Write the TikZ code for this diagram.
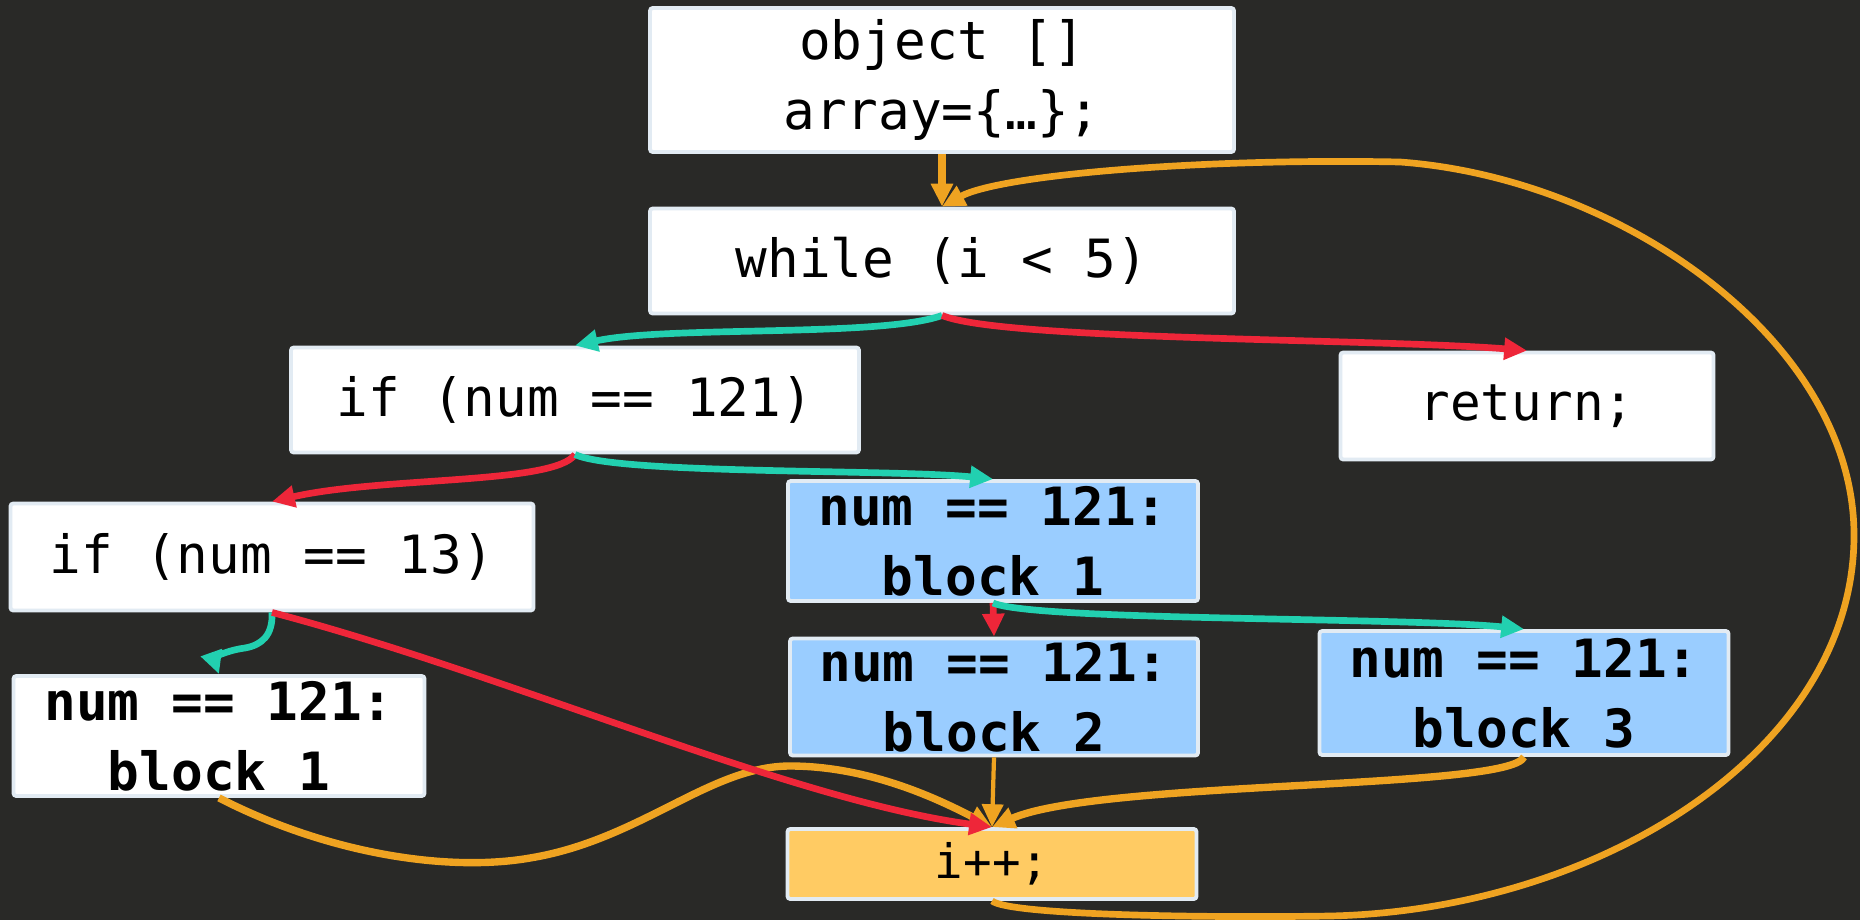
\documentclass[tikz,border=0pt]{standalone}
\usepackage{fontspec}
\setmonofont{DejaVu Sans Mono}
\usetikzlibrary{arrows.meta}

\definecolor{bgdark}{HTML}{292927}
\definecolor{boxline}{HTML}{E2EBF3}
\definecolor{blockblue}{HTML}{9ACDFF}
\definecolor{incyellow}{HTML}{FFCB63}
\definecolor{flowyes}{HTML}{22D0B0}
\definecolor{flowno}{HTML}{EE2639}
\definecolor{flowjump}{HTML}{EFA321}

\tikzset{
  stmt/.style={draw=boxline, line width=1.1pt, fill=white, rounded corners=0.8pt,
    inner sep=0pt, align=center, font=\ttfamily\fontsize{15}{20}\selectfont},
  blockstmt/.style={stmt, fill=blockblue, font=\ttfamily\bfseries\fontsize{15}{20}\selectfont},
  tip/.style={-{Triangle[length=6.5pt,width=6pt]}},
  yes/.style={tip, draw=flowyes, line width=1.9pt},
  no/.style={tip, draw=flowno, line width=1.9pt},
  jump/.style={tip, draw=flowjump, line width=2.1pt},
}

\begin{document}
\begin{tikzpicture}[x=0.1mm, y=-0.1mm]
  \fill[bgdark] (0,0) rectangle (1860,920);
  \useasboundingbox (0,0) rectangle (1860,920);

  % statements
  \node[stmt, minimum width=58.4mm, minimum height=14.4mm] (init) at (942,80) {object []\\array=\{…\};};
  \node[stmt, minimum width=58.4mm, minimum height=10.5mm] (loop) at (942,261) {while (i < 5)};
  \node[stmt, minimum width=56.8mm, minimum height=10.5mm] (test121) at (575,400) {if (num == 121)};
  \node[stmt, minimum width=37.3mm, minimum height=10.7mm, font=\ttfamily\fontsize{14.5}{20}\selectfont] (ret) at (1527,406) {return;};
  \node[stmt, minimum width=52.3mm, minimum height=10.7mm] (test13) at (272,557) {if (num == 13)};
  \node[stmt, minimum width=41.1mm, minimum height=12mm, font=\ttfamily\bfseries\fontsize{15}{20}\selectfont] (blkA) at (219,736) {num == 121:\\block 1};
  \node[blockstmt, minimum width=41mm, minimum height=12mm] (blkB) at (993,541) {num == 121:\\block 1};
  \node[blockstmt, minimum width=40.8mm, minimum height=11.7mm] (blkC) at (994,697) {num == 121:\\block 2};
  \node[blockstmt, minimum width=40.9mm, minimum height=12.4mm] (blkD) at (1524,693) {num == 121:\\block 3};
  \node[stmt, fill=incyellow, minimum width=40.9mm, minimum height=7mm, font=\ttfamily\fontsize{13.5}{16}\selectfont] (inc) at (992,864) {i++;};

  % jumps
  \draw[jump] (init.south) -- (loop.north);
  \draw[jump, line width=1.9pt] (inc.south) .. controls (1010,915) and (1200,918) .. (1330,916)
    .. controls (1600,910) and (1855,750) .. (1854,534)
    .. controls (1853,340) and (1620,178) .. (1400,162)
    .. controls (1200,158) and (1000,175) .. (loop.north);
  \draw[jump] (blkA.south) .. controls (330,855) and (450,872) .. (530,858)
    .. controls (640,840) and (710,766) .. (790,766)
    .. controls (870,766) and (940,800) .. (inc.north);
  \draw[jump, line width=1.2pt] (blkC.south) -- (inc.north);
  \draw[jump] (blkD.south) .. controls (1510,790) and (1100,780) .. (inc.north);

  % branches
  \draw[yes] (loop.south) .. controls +(-60,22) and +(90,-20) .. (test121.north);
  \draw[no] (loop.south) .. controls +(60,25) and +(-150,-12) .. (ret.north);
  \draw[no] (test121.south) .. controls +(-20,30) and +(110,-25) .. (test13.north);
  \draw[yes] (test121.south) .. controls +(40,20) and +(-100,-10) .. (blkB.north);
  \draw[no] (blkB.south) -- (blkC.north);
  \draw[yes] (blkB.south) .. controls +(40,18) and +(-120,-12) .. (blkD.north);
  \draw[yes] (test13.south) .. controls (273,635) and (262,645) .. (245,648)
    .. controls (222,651) and (214,660) .. (blkA.north);
  \draw[no] (test13.south) .. controls (510,675) and (790,800) .. (inc.north);
\end{tikzpicture}
\end{document}
